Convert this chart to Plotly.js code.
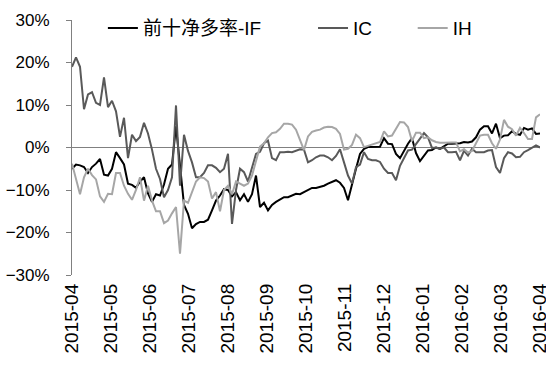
<!DOCTYPE html>
<html>
<head>
<meta charset="utf-8">
<script src="https://cdn.plot.ly/plotly-3.0.1.min.js"></script>
<style>html,body{margin:0;padding:0;background:#fff;}#chart{width:546px;height:366px;}</style>
</head>
<body>
<div id="chart"></div>
<script>
// Month labels on the category axis
const monthLabels = ['2015-04','2015-05','2015-06','2015-07','2015-08','2015-09','2015-10','2015-11','2015-12','2016-01','2016-02','2016-03','2016-04'];

// 前十净多率 (%) — IF series
const seriesIF = [
  -5, -4, -4.2, -4.6, -6, -4.6, -3.8, -2.7, -6.4, -6.6,
  -5, -1.1, -2.5, -4, -8.5, -8.8, -9.5, -8, -7, -10.8,
  -12.8, -11, -11.3, -8.7, -5, -4, 5, -5, -13.5, -15.6,
  -19, -18, -17.5, -17.5, -17, -14.8, -12.5, -11.3, -9.8, -10,
  -11.5, -10.5, -12.4, -11, -12.8, -11, -6.6, -14, -13, -14.8,
  -13.5, -12.8, -12.2, -11.7, -11.7, -11.3, -10.9, -11, -10.5, -10,
  -9.5, -9.5, -9.3, -9, -8.5, -8.1, -7.7, -8.3, -9.5, -12.4,
  -9, -5, -1.5, -0.3, 0.1, 0.1, 0.1, 0.2, 2.2, 0.9,
  0.8, -1.5, -2.5, -0.8, 0.9, 2.2, -1.3, -3.2, -1.8, -0.7,
  -0.6, 0, -0.3, 0.3, 0.9, 0.9, 1, 1, 1.3, 1.2,
  1.4, 2.4, 4.2, 5, 5, 3.3, 5.6, 2.2, 2.8, 2.9,
  3.8, 3.2, 3, 4.6, 4.2, 4.5, 3.2, 3.3
];

// IC series (%)
const seriesIC = [
  19, 21.2, 19, 9, 12.5, 13, 10.5, 10, 16.5, 9.5,
  11, 8.5, 2.5, 7, -2.5, 3, 1.5, 2.5, 5.8, 3.3,
  -0.5, -5, -7.4, -11.7, -10, -7, 9.9, -9, 3, -0.8,
  -3.5, -7, -7, -6, -4.2, -4.2, -4.8, -5.8, -5, -1.5,
  -18, -10, -5, -5.8, -8, -5, -1.5, -1, 1, 1.6,
  -2.5, -3, -1.1, -1.1, -1, -1.1, -0.7, -0.4, -0.5, -3.5,
  -3, -2.3, -1.9, -1.9, -2.3, -3, -2, -0.4, -3.5, -6.6,
  -8.5, -4.6, -4, -1.1, -2.7, -3, -3, -3.4, -5, -6,
  -6, -7.7, -4.3, -2.5, -0.7, -0.5, 0.9, 2, 3.4, 2.4,
  -0.1, 0, -0.3, 0, -1.1, -1.1, -1, -3, -0.8, -1.9,
  -0.3, -1.1, -1.1, -1.1, -0.7, -0.6, -4.6, -6, -2.5, -1.1,
  -1.4, -2.3, -2.2, -1.1, -0.6, 0, 0.5, 0
];

// IH series (%)
const seriesIH = [
  -3.8, -7.5, -11, -7, -5, -6.5, -7.5, -11.5, -12.8, -10.9,
  -11, -6, -6, -9, -10.9, -12.3, -10, -7, -12.5, -9,
  -12.5, -15, -15, -17.8, -17.2, -15.5, -14, -25, -12.5, -13,
  -10.3, -8, -7, -7.2, -8, -12, -10.5, -15, -10, -9,
  -11, -8, -8.5, -9, -8.5, -6.6, -3.2, 0.2, 1, 2.4,
  3.4, 3.6, 4.4, 5.6, 5.6, 5.4, 4.2, 2, -0.6, 2.6,
  3.7, 4, 4.2, 4.7, 4.9, 4.8, 4.4, 3.2, -0.5, -0.3,
  0.6, 3, 2.2, 0.1, 0.4, 0.6, 0.9, 1.3, 3.8, 2.6,
  2.8, 4.3, 6, 5.9, 4.8, 1.5, 3.5, 3.5, 2.2, 2.4,
  1.7, 1.3, 1.1, 1.1, 1.2, 1.2, 1.2, -0.9, -0.4, -1.2,
  -0.8, 0.9, 2.8, 3, 3, 1, -0.3, 1.9, 6.5, 4.9,
  4.3, 2.8, 4.6, 3.4, 2, 2, 7.1, 7.8
];

const seriesNames = ['前十净多率-IF', 'IC', 'IH'];

const n = seriesIF.length;
const xs = seriesIF.map((_, i) => i);
const step = (n - 1) / (monthLabels.length - 1);
const tickPositions = monthLabels.map((_, k) => k * step);

const FONT = 'Liberation Sans, Arial, Noto Sans CJK SC, sans-serif';

const traces = [
  {x: xs, y: seriesIF, name: seriesNames[0], type: 'scatter', mode: 'lines',
   line: {color: '#000000', width: 2}, legend: 'legend'},
  {x: xs, y: seriesIC, name: seriesNames[1], type: 'scatter', mode: 'lines',
   line: {color: '#595959', width: 2}, legend: 'legend2'},
  {x: xs, y: seriesIH, name: seriesNames[2], type: 'scatter', mode: 'lines',
   line: {color: '#A6A6A6', width: 2}, legend: 'legend3'}
];

const legendBase = {orientation: 'h', yanchor: 'middle', xanchor: 'left',
  font: {family: FONT, size: 19, color: '#000'}, bgcolor: 'rgba(0,0,0,0)', borderwidth: 0};

const layout = {
  width: 546, height: 366,
  margin: {l: 72, r: 6, t: 20, b: 91},
  paper_bgcolor: '#ffffff', plot_bgcolor: '#ffffff',
  showlegend: true,
  legend: Object.assign({}, legendBase, {x: 0.066, y: 0.968}),
  legend2: Object.assign({}, legendBase, {x: 0.515, y: 0.968}),
  legend3: Object.assign({}, legendBase, {x: 0.728, y: 0.968}),
  xaxis: {
    range: [0, n - 1],
    tickmode: 'array', tickvals: tickPositions, ticktext: monthLabels,
    tickangle: -90, showgrid: false, zeroline: false, showline: false,
    ticks: '', ticklabeloverflow: 'allow', ticklabelstandoff: 4,
    tickfont: {family: FONT, size: 19, color: '#000'},
    fixedrange: true
  },
  yaxis: {
    range: [-30, 30], dtick: 10, tick0: 0, ticksuffix: '%',
    showgrid: false, zeroline: true, zerolinecolor: '#808080', zerolinewidth: 1,
    showline: true, linecolor: '#808080', linewidth: 1,
    ticks: 'outside', ticklen: 5, tickcolor: '#808080', tickwidth: 1,
    ticklabelstandoff: 13,
    tickfont: {family: FONT, size: 17, color: '#000'},
    fixedrange: true
  }
};

Plotly.newPlot('chart', traces, layout, {staticPlot: true, displayModeBar: false});
</script>
</body>
</html>
